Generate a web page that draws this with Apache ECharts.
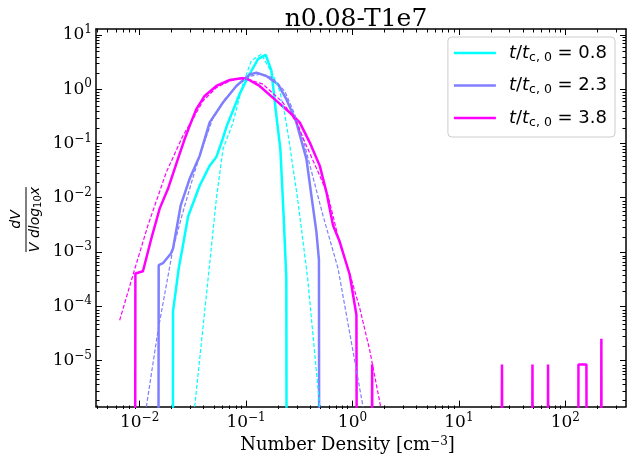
<!DOCTYPE html>
<html><head><meta charset="utf-8">
<script src="https://cdn.jsdelivr.net/npm/echarts@6/dist/echarts.min.js"></script>
<style>html,body{margin:0;padding:0;background:#fff}#c{width:629px;height:459px}</style>
</head><body><div id="c"></div>
<script>
// ---- text ----
const chartTitle = 'n0.08-T1e7';
const xLabelText = 'Number Density [cm';
const legendValues = ['0.8', '2.3', '3.8'];
const seriesColors = ['#00FFFF', '#7F7FFF', '#FF00FF'];

// ---- axis limits and ticks ----
const xLimits = [0.00389, 371.5];
const yLimits = [1.41e-6, 12.9];
const xMajorTicks = [0.01, 0.1, 1, 10, 100];
const yMajorTicks = [1e-5, 1e-4, 1e-3, 1e-2, 1e-1, 1, 10];

// ---- data (0 = empty bin) ----
// t/tc0 = 0.8
const cyanX = [0.019, 0.0206, 0.0233, 0.0252, 0.0285, 0.0367, 0.0455, 0.0526, 0.0603, 0.0653, 0.087, 0.108, 0.1294, 0.1528, 0.173, 0.19, 0.21, 0.225, 0.239, 0.26];
const cyanY = [0, 8.1e-5, 5.0e-4, 1.15e-3, 4.5e-3, 0.0168, 0.039, 0.0565, 0.121, 0.201, 0.82, 1.91, 3.6, 4.33, 2.2, 0.41, 0.079, 0.005, 3.2e-4, 0];
const cyanFitX = [0.0329, 0.0445, 0.0526, 0.0607, 0.0748, 0.0935, 0.112, 0.139, 0.177, 0.207, 0.231, 0.253, 0.305, 0.379, 0.492];
const cyanFitY = [1.4e-6, 4.0e-4, 9.6e-3, 0.079, 0.231, 1.25, 3.36, 4.44, 1.91, 0.946, 0.352, 0.115, 9.6e-3, 3.3e-4, 1.4e-6];
// t/tc0 = 2.3
const purpleX = [0.014, 0.0151, 0.01655, 0.0196, 0.0206, 0.0243, 0.0295, 0.0367, 0.0455, 0.0607, 0.081, 0.108, 0.125, 0.155, 0.1995, 0.239, 0.297, 0.369, 0.411, 0.458, 0.484, 0.52];
const purpleY = [0, 5.7e-4, 6.2e-4, 9.3e-4, 1.16e-3, 7.2e-3, 0.0223, 0.0597, 0.245, 0.57, 1.15, 1.88, 2.02, 1.75, 1.24, 0.655, 0.245, 0.052, 0.011, 2.35e-3, 7.1e-4, 0];
const purpleFitX = [0.01156, 0.01486, 0.0206, 0.0265, 0.0329, 0.0394, 0.0485, 0.063, 0.0834, 0.108, 0.134, 0.174, 0.231, 0.286, 0.343, 0.528, 0.731, 1.256];
const purpleFitY = [1.4e-6, 3.5e-5, 1.16e-3, 7.1e-3, 0.030, 0.090, 0.282, 0.655, 1.18, 1.73, 1.88, 1.66, 0.92, 0.348, 0.121, 4.7e-3, 5.0e-4, 1.4e-6];
// t/tc0 = 3.8
const magentaX = [0.0085, 0.00912, 0.01074, 0.01288, 0.01542, 0.01846, 0.0229, 0.0265, 0.0295, 0.0341, 0.0408, 0.0526, 0.0702, 0.0904, 0.104, 0.134, 0.193, 0.257, 0.319, 0.396, 0.492, 0.569, 0.656, 0.759, 0.942, 1.089, 1.25, 1.53, 1.75, 20, 25.4, 30, 40, 49.1, 57, 62, 68.8, 80, 120, 132.8, 157.8, 180, 200, 218, 240];
const magentaY = [0, 4.0e-4, 4.4e-4, 1.77e-3, 6.3e-3, 0.0146, 0.052, 0.121, 0.212, 0.43, 0.753, 1.15, 1.48, 1.59, 1.53, 1.15, 0.61, 0.373, 0.245, 0.105, 0.039, 0.0127, 3.1e-3, 1.54e-3, 3.8e-4, 6.9e-5, 0, 8.4e-6, 0, 0, 8.4e-6, 0, 0, 8.4e-6, 0, 0, 8.4e-6, 0, 0, 8.4e-6, 8.4e-6, 0, 0, 2.5e-5, 0];
const magentaFitX = [0.00649, 0.00865, 0.01197, 0.01782, 0.0255, 0.0317, 0.0394, 0.0526, 0.0702, 0.0935, 0.144, 0.222, 0.297, 0.369, 0.492, 0.589, 0.759, 0.942, 1.17, 1.45, 1.84];
const magentaFitY = [5.5e-5, 3.75e-4, 3.1e-3, 0.0296, 0.139, 0.282, 0.61, 1.07, 1.42, 1.64, 1.24, 0.57, 0.245, 0.091, 0.0256, 0.0110, 1.43e-3, 4.0e-4, 9.2e-5, 1.56e-5, 1.4e-6];

// ---- helpers ----
const lg = Math.log10;
function toData(xs, ys) { return xs.map((x, i) => [lg(x), ys[i] > 0 ? lg(ys[i]) : -60]); }
function minorTicks(lim) {
  const lo = lg(lim[0]), hi = lg(lim[1]), out = [];
  for (let n = Math.floor(lo); n <= Math.ceil(hi); n++) {
    for (let k = 2; k <= 9; k++) { const v = n + lg(k); if (v >= lo && v <= hi) out.push(v); }
  }
  return out;
}
function powLabel(v) { const e = Math.round(v); return '{b|10}{s|' + (e < 0 ? '\u2212' + (-e) : e) + '}'; }

const serif = 'DejaVu Serif';
const labelRich = {
  b: { fontFamily: serif, fontSize: 17, color: '#000', lineHeight: 22 },
  s: { fontFamily: serif, fontSize: 12, color: '#000', verticalAlign: 'top', lineHeight: 12 }
};
const tickStyle = { color: '#000', width: 1 };
const spine = { show: true, onZero: false, lineStyle: { color: '#000', width: 1.5 } };
const xMaj = xMajorTicks.map(lg), yMaj = yMajorTicks.map(lg);
const xMin = minorTicks(xLimits), yMin = minorTicks(yLimits);
const xr = { min: lg(xLimits[0]), max: lg(xLimits[1]) }, yr = { min: lg(yLimits[0]), max: lg(yLimits[1]) };
const gridBox = { left: 96, right: 3, top: 29, bottom: 50 };

function xAxisDef(grid, pos, ticks, len, labels, line) {
  return Object.assign({ type: 'value', gridIndex: grid, position: pos, splitLine: { show: false },
    axisLine: line ? spine : { show: false, onZero: false },
    axisTick: { show: true, inside: true, length: len, customValues: ticks, lineStyle: tickStyle },
    axisLabel: labels ? { show: true, customValues: xMaj, formatter: powLabel, rich: labelRich, margin: 5 } : { show: false }
  }, xr);
}
function yAxisDef(grid, pos, ticks, len, labels, line) {
  return Object.assign({ type: 'value', gridIndex: grid, position: pos, splitLine: { show: false },
    axisLine: line ? spine : { show: false, onZero: false },
    axisTick: { show: true, inside: true, length: len, customValues: ticks, lineStyle: tickStyle },
    axisLabel: labels ? { show: true, customValues: yMaj, formatter: powLabel, rich: labelRich, margin: 4 } : { show: false }
  }, yr);
}

const xAxes = [
  xAxisDef(0, 'bottom', xMaj, 6, true, true),
  xAxisDef(0, 'top', xMaj, 6, false, true),
  xAxisDef(1, 'bottom', xMin, 3.5, false, false),
  xAxisDef(1, 'top', xMin, 3.5, false, false)
];
xAxes[0].name = xLabelText + '{sup|\u22123}]';
xAxes[0].nameLocation = 'middle';
xAxes[0].nameGap = 27;
xAxes[0].nameTextStyle = { fontFamily: serif, fontSize: 18, color: '#000', padding: [0, 27, 0, 0],
  rich: { sup: { fontFamily: serif, fontSize: 12, color: '#000', verticalAlign: 'top', lineHeight: 12 } } };
const yAxes = [
  yAxisDef(0, 'left', yMaj, 6, true, true),
  yAxisDef(0, 'right', yMaj, 6, false, true),
  yAxisDef(1, 'left', yMin, 3.5, false, false),
  yAxisDef(1, 'right', yMin, 3.5, false, false)
];

const solids = [[cyanX, cyanY], [purpleX, purpleY], [magentaX, magentaY]];
const fits = [[cyanFitX, cyanFitY], [purpleFitX, purpleFitY], [magentaFitX, magentaFitY]];
const series = [];
solids.forEach((d, i) => series.push({ name: 's' + i, type: 'line', xAxisIndex: 0, yAxisIndex: 0,
  data: toData(d[0], d[1]), symbol: 'none', color: seriesColors[i], lineStyle: { width: 2.5, color: seriesColors[i] }, z: 3 }));
fits.forEach((d, i) => series.push({ name: 'f' + i, type: 'line', xAxisIndex: 0, yAxisIndex: 0,
  data: toData(d[0], d[1]), symbol: 'none', color: seriesColors[i], lineStyle: { width: 1.2, type: [4, 2], color: seriesColors[i] }, z: 4 }));

const sans = 'DejaVu Sans';
const LF = 18, LH = 22;
const chart = echarts.init(document.getElementById('c'), null, { renderer: 'canvas' });
chart.setOption({
  animation: false,
  backgroundColor: '#fff',
  title: { text: chartTitle, left: 351, top: 2, textAlign: 'center',
    textStyle: { fontFamily: serif, fontSize: 25, fontWeight: 'normal', color: '#000' } },
  grid: [Object.assign({}, gridBox), Object.assign({}, gridBox)],
  xAxis: xAxes, yAxis: yAxes, series: series,
  legend: {
    data: ['s0', 's1', 's2'], orient: 'vertical', right: 14, top: 37,
    icon: 'rect', itemWidth: 42, itemHeight: 2.5, itemGap: 10.5, padding: [5, 8, 8, 6],
    borderColor: '#cccccc', borderWidth: 1, borderRadius: 4, backgroundColor: 'rgba(255,255,255,0.8)',
    formatter: function (name) { const i = +name.slice(1); return '{it0|t}{n|/}{it|t}{sub|c, 0}{n| = ' + legendValues[i] + '}'; },
    textStyle: { fontFamily: sans, fontSize: LF, color: '#000', lineHeight: LH,
      rich: {
        it0: { fontFamily: sans, fontStyle: 'italic', fontSize: LF, color: '#000', padding: [0, 0, 0, 8], lineHeight: LH },
        it: { fontFamily: sans, fontStyle: 'italic', fontSize: LF, color: '#000', lineHeight: LH },
        n: { fontFamily: sans, fontSize: LF, color: '#000', lineHeight: LH },
        sub: { fontFamily: sans, fontSize: 12.5, color: '#000', verticalAlign: 'bottom', lineHeight: 12 }
      } }
  },
  graphic: [{
    type: 'group', x: 27, y: 219.5, rotation: Math.PI / 2,
    children: [
      { type: 'text', style: { text: 'dV', x: 0, y: -11, align: 'center', verticalAlign: 'middle',
        font: 'italic 14px "DejaVu Sans"', fill: '#000' } },
      { type: 'line', shape: { x1: -32.5, y1: -1, x2: 32.5, y2: -1 }, style: { stroke: '#000', lineWidth: 1 } },
      { type: 'text', style: { text: '{i|V dlog}{s|10}{i|x}', x: 0, y: 8, align: 'center', verticalAlign: 'middle',
        rich: { i: { fontFamily: sans, fontStyle: 'italic', fontSize: 14, fill: '#000', color: '#000', lineHeight: 16 },
                s: { fontFamily: sans, fontSize: 10, color: '#000', verticalAlign: 'bottom', lineHeight: 10 } } } }
    ]
  }]
});
</script></body></html>
